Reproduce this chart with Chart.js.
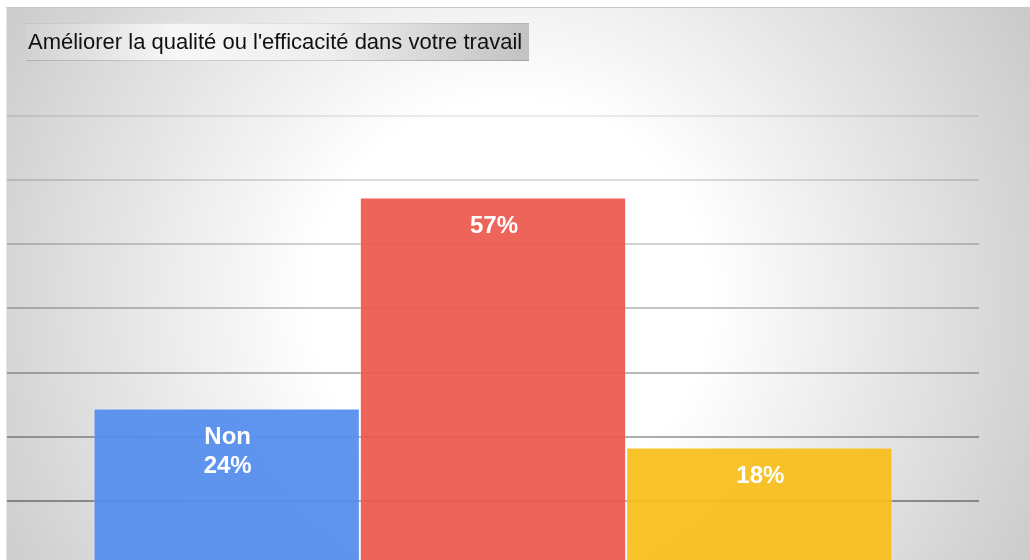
<!DOCTYPE html>
<html>
<head>
<meta charset="utf-8">
<script src="https://cdn.jsdelivr.net/npm/chart.js@4"></script>
<style>
  html, body { margin: 0; padding: 0; background: #fff; overflow: hidden; }
  #wrap { width: 1030px; height: 620px; position: relative; }
</style>
</head>
<body>
<div id="wrap"><canvas id="qualityChart"></canvas></div>
<script>
const chartTitle = "Améliorer la qualité ou l'efficacité dans votre travail";
const categories = ["Non", "", ""];
const values = [24.4, 57.3, 18.3];
const barColors = ["rgba(83,141,238,0.93)", "rgba(236,89,77,0.93)", "rgba(248,190,26,0.93)"];
const gridTicks = [10, 20, 30, 40, 50, 60, 70];

// background + title box drawn by hand
const frame = {
  id: "frame",
  beforeDraw(chart) {
    const c = chart.ctx;
    const w = chart.width, h = chart.height;
    c.save();
    const g = c.createRadialGradient(510, 300, 0, 510, 300, 620);
    g.addColorStop(0, "#ffffff");
    g.addColorStop(0.32, "#ffffff");
    g.addColorStop(1, "#c6c6c6");
    c.fillStyle = g;
    c.fillRect(6, 7, w - 6, h - 7);
    c.fillStyle = "#c8c8c8";
    c.fillRect(6, 7, w - 6, 1);
    c.fillStyle = "#e6e6e6";
    c.fillRect(6, 8, 1, h - 8);
    c.restore();
  },
  afterDraw(chart) {
    const c = chart.ctx;
    c.save();
    const x = 26, y = 23, bw = 503, bh = 38;
    const g = c.createLinearGradient(x, 0, x + bw, 0);
    g.addColorStop(0, "#d2d2d2");
    g.addColorStop(0.3, "#f7f7f7");
    g.addColorStop(0.6, "#eeeeee");
    g.addColorStop(1, "#c2c2c2");
    c.fillStyle = g;
    c.fillRect(x, y, bw, bh);
    c.fillStyle = "rgba(0,0,0,0.07)";
    c.fillRect(x, y, bw, 1);
    c.fillStyle = "rgba(0,0,0,0.16)";
    c.fillRect(x, y + bh - 1, bw, 1);
    c.fillStyle = "#111111";
    c.font = "22px 'Liberation Sans', Arial, sans-serif";
    c.textBaseline = "middle";
    c.fillText(chartTitle, 28, 43);
    c.restore();
  }
};

const barText = {
  id: "barText",
  afterDatasetsDraw(chart) {
    const c = chart.ctx;
    c.save();
    c.fillStyle = "#ffffff";
    c.font = "bold 24px 'Liberation Sans', Arial, sans-serif";
    c.textAlign = "center";
    c.textBaseline = "middle";
    chart.data.datasets.forEach((ds, i) => {
      const bar = chart.getDatasetMeta(i).data[0];
      const lines = [];
      if (ds.label) lines.push(ds.label);
      lines.push(Math.round(ds.data[0]) + "%");
      lines.forEach((t, k) => c.fillText(t, bar.x + 1, bar.y + 29 + k * 29));
    });
    c.restore();
  }
};

new Chart(document.getElementById("qualityChart"), {
  type: "bar",
  data: {
    labels: [""],
    datasets: categories.map((name, i) => ({
      label: name,
      data: [values[i]],
      backgroundColor: barColors[i],
      borderColor: "rgba(255,255,255,0.35)",
      borderWidth: 1,
      borderSkipped: false,
      categoryPercentage: 0.822,
      barPercentage: 1,
    })),
  },
  options: {
    responsive: true,
    maintainAspectRatio: false,
    animation: false,
    layout: { padding: { left: 7, right: 51, top: 55, bottom: 55 } },
    plugins: {
      legend: { display: false },
      tooltip: { enabled: false },
    },
    scales: {
      x: { display: false },
      y: {
        min: 0,
        max: 79.5,
        afterBuildTicks(axis) {
          axis.ticks = gridTicks.map((v) => ({ value: v }));
        },
        ticks: { display: false },
        border: { display: false },
        grid: {
          drawTicks: false,
          lineWidth: 2,
          color(ctx) {
            const v = ctx.tick ? ctx.tick.value : 0;
            const a = 0.42 - v * 0.0048;
            return "rgba(0,0,0," + a.toFixed(3) + ")";
          },
        },
      },
    },
  },
  plugins: [frame, barText],
});
</script>
</body>
</html>
